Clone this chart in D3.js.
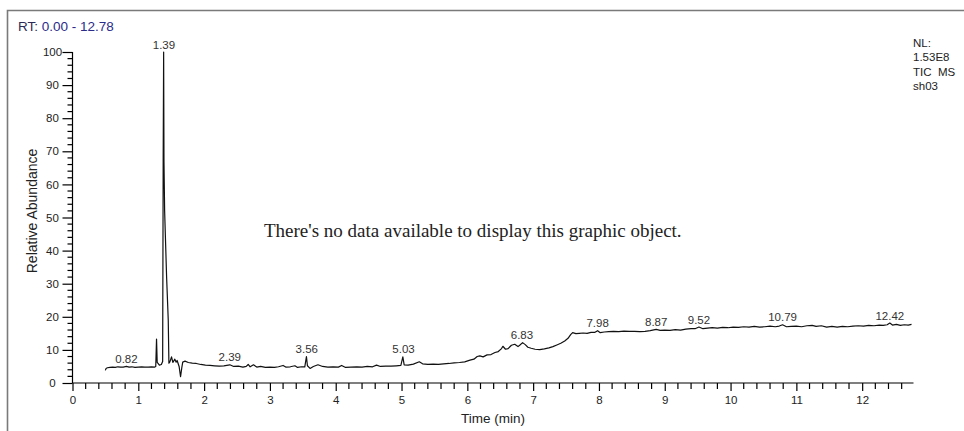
<!DOCTYPE html>
<html><head><meta charset="utf-8">
<script src="https://cdn.jsdelivr.net/npm/d3@7"></script>
<style>body{margin:0;background:#fff}svg{display:block}</style>
</head><body>
<script>
const times = [0.50,0.51,0.53,0.57,0.61,0.65,0.69,0.73,0.77,0.82,0.86,0.90,0.95,1.00,1.05,1.10,1.15,1.20,1.25,1.265,1.277,1.287,1.30,1.32,1.35,1.37,1.378,1.385,1.390,1.40,1.43,1.455,1.465,1.48,1.505,1.525,1.555,1.575,1.59,1.62,1.642,1.66,1.675,1.71,1.76,1.82,1.88,1.95,2.02,2.09,2.16,2.23,2.30,2.39,2.45,2.52,2.59,2.64,2.67,2.70,2.75,2.80,2.86,2.93,3.00,3.07,3.13,3.20,3.24,3.31,3.38,3.42,3.48,3.53,3.555,3.57,3.61,3.66,3.73,3.80,3.88,3.96,4.04,4.09,4.15,4.23,4.32,4.40,4.48,4.56,4.62,4.68,4.76,4.84,4.92,4.99,5.02,5.04,5.10,5.18,5.27,5.32,5.40,5.48,5.56,5.64,5.72,5.80,5.88,5.96,6.04,6.10,6.15,6.19,6.24,6.30,6.36,6.42,6.47,6.52,6.54,6.58,6.62,6.67,6.72,6.77,6.80,6.84,6.88,6.92,6.97,7.03,7.10,7.17,7.24,7.30,7.36,7.42,7.48,7.53,7.57,7.60,7.65,7.70,7.76,7.82,7.88,7.94,7.98,8.02,8.08,8.15,8.22,8.30,8.38,8.46,8.54,8.62,8.70,8.78,8.87,8.93,9.00,9.08,9.16,9.24,9.32,9.40,9.46,9.52,9.58,9.65,9.72,9.80,9.88,9.96,10.04,10.12,10.20,10.28,10.36,10.44,10.52,10.60,10.68,10.74,10.79,10.85,10.92,11.00,11.08,11.16,11.24,11.30,11.38,11.46,11.54,11.62,11.70,11.78,11.86,11.94,12.02,12.10,12.18,12.26,12.32,12.38,12.42,12.46,12.52,12.58,12.64,12.70,12.75];
const abundance = [3.8,4.4,4.6,4.7,4.8,4.7,4.9,4.8,4.8,5.0,4.8,4.9,4.7,4.8,4.9,4.8,4.8,4.9,4.8,5.0,13.3,6.2,5.9,5.4,5.6,6.5,67,100,67,52,32,19,6.0,6.4,7.9,6.2,7.2,6.3,6.8,5.0,1.9,4.5,6.3,6.6,6.2,6.0,5.9,5.6,5.4,5.3,5.2,5.1,5.2,5.5,5.0,5.1,4.8,5.0,5.6,4.9,5.5,4.8,5.0,4.7,4.8,4.7,4.9,5.3,4.8,4.9,5.2,4.7,4.9,4.9,8.0,5.2,4.4,5.0,5.5,5.0,4.8,4.9,4.8,5.3,4.7,4.8,4.9,4.8,5.0,4.9,5.4,5.0,5.1,5.1,5.2,5.3,7.9,5.5,5.4,5.7,6.4,5.8,5.6,5.7,5.6,5.8,5.9,6.1,6.2,6.4,6.9,7.2,8.0,8.2,7.9,8.5,8.6,9.2,9.5,10.4,11.1,10.2,10.4,11.4,11.7,11.0,11.5,12.2,11.6,10.8,10.5,10.2,10.1,10.3,10.6,11.0,11.5,12.0,12.7,13.5,14.6,15.2,14.9,15.0,15.1,15.0,15.3,15.3,15.8,15.2,15.4,15.5,15.6,15.5,15.7,15.6,15.6,15.5,15.6,15.8,16.2,15.9,16.0,15.9,16.1,16.0,16.3,16.4,16.4,16.9,16.4,16.6,16.7,16.6,16.8,16.7,16.9,16.8,17.0,16.9,17.1,16.9,17.0,17.2,17.0,17.2,17.6,17.0,17.1,17.2,17.0,17.3,17.4,17.1,17.3,16.9,17.1,16.9,17.1,17.0,17.2,17.3,17.2,17.4,17.3,17.5,17.4,17.6,18.1,17.5,17.7,17.4,17.6,17.5,17.7];
const peakTimes = [0.82,1.39,2.39,3.56,5.03,6.83,7.98,8.87,9.52,10.79,12.42];
const peakLabels = ["0.82","1.39","2.39","3.56","5.03","6.83","7.98","8.87","9.52","10.79","12.42"];
const xTickValues = [0,1,2,3,4,5,6,7,8,9,10,11,12];
const yTickValues = [0,10,20,30,40,50,60,70,80,90,100];
const infoLines = ["NL:","1.53E8","TIC  MS","sh03"];

const W=964,H=431;
const svg=d3.select("body").append("svg").attr("width",W).attr("height",H);
const font="Liberation Sans, Arial, sans-serif";
const x=d3.scaleLinear().domain([0,12.78]).range([72.5,913.5]);
const y=d3.scaleLinear().domain([0,100]).range([383,52]);

// frame
svg.append("path").attr("d","M7.5,431 V10.5 H964").attr("fill","none").attr("stroke","#7a7a7a").attr("stroke-width",1.6);

// axes
const minorX=d3.range(0,12.79,0.2).filter(v=>Math.abs(v-Math.round(v))>1e-6);
const gx=svg.append("g").attr("transform","translate(0,383)");
gx.append("line").attr("x1",x(0)).attr("x2",x(12.78)).attr("stroke","#000").attr("stroke-width",1.3);
gx.selectAll(".mx").data(minorX).join("line").attr("x1",d=>x(d)).attr("x2",d=>x(d)).attr("y1",0).attr("y2",6).attr("stroke","#000").attr("stroke-width",1.2);
gx.call(d3.axisBottom(x).tickValues(xTickValues).tickSize(8).tickPadding(2).tickFormat(d3.format("d")))
  .call(g=>g.select(".domain").remove())
  .call(g=>g.selectAll("line").attr("stroke","#000").attr("stroke-width",1.2))
  .call(g=>g.selectAll("text").attr("font-family",font).attr("font-size",11.5).attr("fill","#222").attr("dy","0.95em"));

const minorY=d3.range(0,100.1,2).filter(v=>v%10!==0);
const gy=svg.append("g").attr("transform","translate(72.5,0)");
gy.append("line").attr("y1",y(0)).attr("y2",y(100)).attr("stroke","#000").attr("stroke-width",1.3);
gy.selectAll(".my").data(minorY).join("line").attr("y1",d=>y(d)).attr("y2",d=>y(d)).attr("x1",0).attr("x2",-5).attr("stroke","#000").attr("stroke-width",1.1);
gy.call(d3.axisLeft(y).tickValues(yTickValues).tickSize(10).tickPadding(0))
  .call(g=>g.select(".domain").remove())
  .call(g=>g.selectAll("line").attr("stroke","#000").attr("stroke-width",1.2))
  .call(g=>g.selectAll("text").attr("font-family",font).attr("font-size",11.5).attr("fill","#222").attr("text-anchor","middle").attr("x",-20));

// trace
const data=times.map((t,i)=>({t,v:abundance[i]}));
svg.append("path").datum(data).attr("fill","none").attr("stroke","#111").attr("stroke-width",1.2).attr("stroke-linejoin","round")
  .attr("d",d3.line().x(d=>x(d.t)).y(d=>y(d.v)));

// peak labels
svg.selectAll(".pl").data(peakTimes).join("text")
  .attr("x",d=>x(d))
  .attr("y",(d)=>{const near=data.filter(p=>Math.abs(p.t-d)<=0.03);return y(d3.max(near,p=>p.v))-3.5;})
  .attr("text-anchor","middle").attr("font-family",font).attr("font-size",11.5).attr("fill","#333")
  .text((d,i)=>peakLabels[i]);

// texts
const rt=svg.append("text").attr("x",18).attr("y",31).attr("font-family",font).attr("font-size",13.5);
rt.append("tspan").attr("fill","#2a2a55").text("RT: ");
rt.append("tspan").attr("fill","#2b2b8a").text("0.00 - 12.78");

svg.selectAll(".nl").data(infoLines).join("text").attr("x",913).attr("y",(d,i)=>47+i*14.3)
  .attr("font-family",font).attr("font-size",11.5).attr("fill","#222").style("white-space","pre").text(d=>d);

svg.append("text").attr("x",264).attr("y",237).attr("font-family","Liberation Serif, Times New Roman, serif").attr("font-size",19).attr("fill","#222")
  .text("There's no data available to display this graphic object.");

svg.append("text").attr("x",493).attr("y",423).attr("text-anchor","middle").attr("font-family",font).attr("font-size",13.5).attr("fill","#222").text("Time (min)");
svg.append("text").attr("transform","translate(36.5,211) rotate(-90)").attr("text-anchor","middle").attr("font-family",font).attr("font-size",14).attr("fill","#222").text("Relative Abundance");
</script>
</body></html>
